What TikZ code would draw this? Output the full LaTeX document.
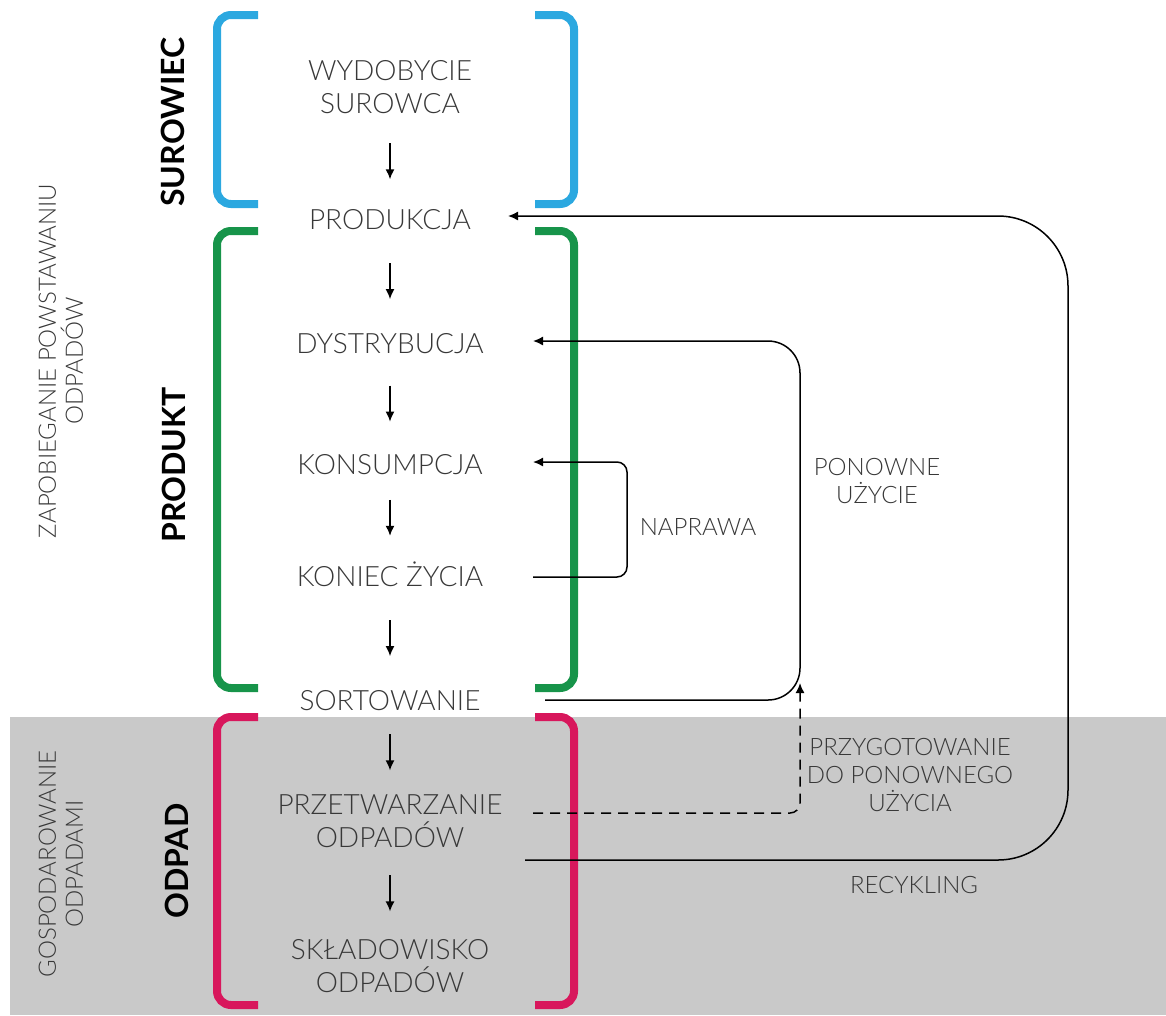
\documentclass[tikz,border=0pt]{standalone}
\usepackage{fontspec}
\setmainfont{Lato Light}[BoldFont={Lato Bold}]
\usetikzlibrary{arrows.meta,calc}

\definecolor{rawblue}{HTML}{2BA8E0}
\definecolor{prodgreen}{HTML}{17944A}
\definecolor{wastered}{HTML}{D8175C}
\definecolor{zonegray}{HTML}{C9C9C9}
\definecolor{labelgray}{HTML}{383838}

\tikzset{
  stage/.style={inner sep=0pt, text=labelgray, font=\fontsize{28}{33}\selectfont, align=center},
  note/.style={inner sep=0pt, text=labelgray, font=\fontsize{24}{28}\selectfont, align=center},
  sidenote/.style={inner sep=0pt, text=labelgray, font=\fontsize{24}{27}\selectfont, align=center, rotate=90},
  phase/.style={inner sep=0pt, text=black, font=\fontsize{32}{36}\bfseries\selectfont, rotate=90},
  bracket/.style={line width=8pt, rounded corners=14pt},
  flow/.style={line width=1.5pt, -{Latex[length=10pt,width=9pt]}},
  down/.style={line width=1.5pt, -{Latex[length=10pt,width=9pt]}},
}

\begin{document}
\begin{tikzpicture}[x=1pt,y=-1pt]
  \useasboundingbox (0,0) rectangle (1166,1015);

  % waste management zone
  \fill[zonegray] (10,717) rectangle (1166,1015);

  % phase brackets
  \draw[bracket, rawblue] (258,15) -- (217,15) -- (217,204) -- (258,204);
  \draw[bracket, rawblue] (535,15) -- (574,15) -- (574,204) -- (535,204);
  \draw[bracket, prodgreen] (258,231) -- (217,231) -- (217,688) -- (258,688);
  \draw[bracket, prodgreen] (535,231) -- (574,231) -- (574,688) -- (535,688);
  \draw[bracket, wastered] (258,717) -- (217,717) -- (217,1005) -- (258,1005);
  \draw[bracket, wastered] (535,717) -- (574,717) -- (574,1005) -- (535,1005);

  % phase names
  \node[phase] (surowiec) at (173,122) {SUROWIEC};
  \node[phase] (produkt) at (174,465) {PRODUKT};
  \node[phase] (odpad) at (177,861) {ODPAD};

  % side notes
  \node[sidenote] (zapob) at (61,361) {ZAPOBIEGANIE POWSTAWANIU\\ODPADÓW};
  \node[sidenote] (gosp) at (61,864) {GOSPODAROWANIE\\ODPADAMI};

  % life-cycle stages
  \node[stage] (wydob) at (390,87) {WYDOBYCIE\\SUROWCA};
  \node[stage, anchor=base] (produkcja) at (390,229) {PRODUKCJA};
  \node[stage, anchor=base] (dystr) at (390,353) {DYSTRYBUCJA};
  \node[stage, anchor=base] (konsum) at (390,474) {KONSUMPCJA};
  \node[stage, anchor=base] (koniec) at (390,586) {KONIEC ŻYCIA};
  \node[stage, anchor=base] (sort) at (390,710) {SORTOWANIE};
  \node[stage] (przetw) at (390,821) {PRZETWARZANIE\\ODPADÓW};
  \node[stage] (sklad) at (390,966) {SKŁADOWISKO\\ODPADÓW};

  % downward steps
  \foreach \a/\b in {wydob/produkcja, produkcja/dystr, dystr/konsum, konsum/koniec, koniec/sort, sort/przetw, przetw/sklad}
    \draw[down] ($(\a.south)!0.5!(\b.north)+(0,-18)$) -- ++(0,36);

  % loop labels
  \node[note] (naprawa) at (698,527) {NAPRAWA};
  \node[note] (ponowne) at (877,481) {PONOWNE\\UŻYCIE};
  \node[note] (przyg) at (910,775) {PRZYGOTOWANIE\\DO PONOWNEGO\\UŻYCIA};
  \node[note] (recykling) at (914,885) {RECYKLING};

  % loop end points
  \coordinate (rec-out) at (525,860);
  \coordinate (rec-in) at (508,216);
  \coordinate (reuse-out) at (545,700);
  \coordinate (reuse-in) at (533,341);
  \coordinate (fix-out) at (533,577);
  \coordinate (fix-in) at (533,462);
  \coordinate (prep-out) at (533,813);
  \coordinate (prep-in) at (800,683);

  % recycling loop
  \draw[flow, rounded corners=70pt] (rec-out) -- (1068,860) -- (1068,216) -- (rec-in);
  % reuse loop
  \draw[flow, rounded corners=32pt] (reuse-out) -- (800,700) -- (800,341) -- (reuse-in);
  % repair loop
  \draw[flow, rounded corners=10pt] (fix-out) -- (627,577) -- (627,462) -- (fix-in);
  % preparing for re-use
  \draw[flow, dash pattern=on 10pt off 7pt, rounded corners=10pt] (prep-out) -- (800,813) -- (prep-in);
\end{tikzpicture}
\end{document}
